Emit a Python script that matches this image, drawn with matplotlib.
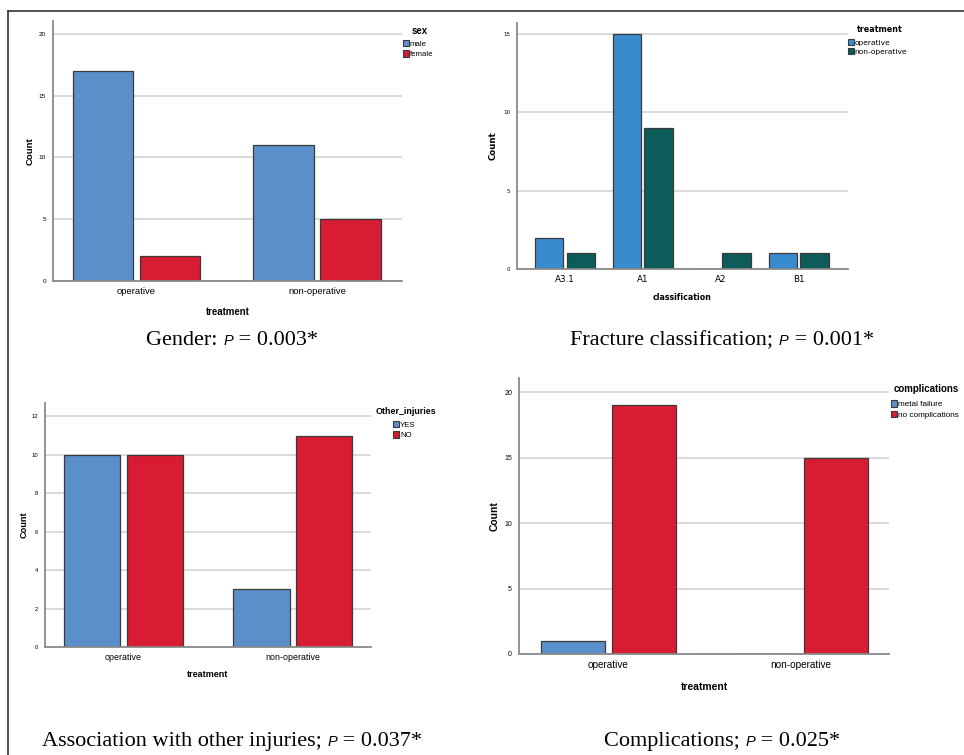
import matplotlib
matplotlib.use("Agg")
import matplotlib.pyplot as plt
import numpy as np
from matplotlib.lines import Line2D
from matplotlib.patches import Patch

plt.rcParams["font.family"] = ["Liberation Sans", "DejaVu Sans"]

# data
treatment = ["operative", "non-operative"]
sex_labels = ["male", "female"]
male = [17, 11]
female = [2, 5]

classification = ["A3.1", "A1", "A2", "B1"]
class_treat = ["operative", "non-operative"]
class_operative = [2, 15, 0, 1]
class_nonoperative = [1, 9, 1, 1]

injury_labels = ["YES", "NO"]
injury_yes = [10, 3]
injury_no = [10, 11]

compl_labels = ["metal failure", "no complications"]
compl_metal = [1, 0]
compl_none = [19, 15]

captions = [
    ("Gender: ", "0.003*"),
    ("Fracture classification; ", "0.001*"),
    ("Association with other injuries; ", "0.037*"),
    ("Complications; ", "0.025*"),
]

BLUE = "#5b8fc9"
RED = "#d71c33"
BLUE2 = "#398bd0"
TEAL = "#0d5c59"
EDGE = "#3a3a3a"
GRID = "#d4d4d4"
SPINE = "#8a8a8a"

W, H = 964, 755
fig = plt.figure(figsize=(W / 100, H / 100), dpi=100)


def px_axes(left, right, top, bottom):
    return fig.add_axes([left / W, 1 - bottom / H, (right - left) / W, (bottom - top) / H])


def fx(x):
    return x / W


def fy(y):
    return 1 - y / H


def style_axes(ax, ymax, yticks, ytick_fs, family):
    ax.set_ylim(0, ymax)
    ax.set_yticks(yticks)
    for s in ["top", "right"]:
        ax.spines[s].set_visible(False)
    for s in ["left", "bottom"]:
        ax.spines[s].set_color(SPINE)
        ax.spines[s].set_linewidth(1.3)
    ax.yaxis.grid(True, color=GRID, linewidth=1.2)
    ax.set_axisbelow(True)
    ax.tick_params(axis="y", length=0, labelsize=ytick_fs, pad=5)
    ax.tick_params(axis="x", length=0, pad=4)
    for lab in ax.get_yticklabels():
        lab.set_family(family)


def legend(ax, handles_labels, x, y, title, tx, ty, fs, tfs, family):
    handles = [Patch(facecolor=c, edgecolor=EDGE, linewidth=0.8) for c, _ in handles_labels]
    labels = [l for _, l in handles_labels]
    ax.legend(handles, labels, loc="upper left", bbox_to_anchor=(fx(x), fy(y)),
              bbox_transform=fig.transFigure, frameon=False, borderpad=0,
              handlelength=0.75, handleheight=0.9, handletextpad=0.15,
              labelspacing=0.3, borderaxespad=0,
              prop={"family": family, "size": fs})
    fig.text(fx(tx), fy(ty), title, fontsize=tfs, fontweight="bold",
             family=family, ha="left", va="center")


def caption(cx, baseline, head, value):
    # serif text, small italic sans P, serif value; centred as a whole
    parts = [
        fig.text(0, fy(baseline), head, fontsize=16, family="Liberation Serif", va="baseline"),
        fig.text(0, fy(baseline), "P", fontsize=10.5, family="Liberation Sans",
                 style="italic", va="baseline"),
        fig.text(0, fy(baseline), " = " + value, fontsize=16, family="Liberation Serif",
                 va="baseline"),
    ]
    r = fig.canvas.get_renderer()
    widths = [t.get_window_extent(r).width for t in parts]
    x = cx - sum(widths) / 2
    for t, wd in zip(parts, widths):
        t.set_x(fx(x))
        x += wd


# panel 1: gender
ax1 = px_axes(53, 402, 21, 281)
x = np.arange(len(treatment))
off, w = 0.185, 0.333
ax1.bar(x - off, male, w, color=BLUE, edgecolor=EDGE, linewidth=0.9)
ax1.bar(x + off, female, w, color=RED, edgecolor=EDGE, linewidth=0.9)
ax1.set_xlim(-0.46, 1.47)
ax1.set_xticks(x)
ax1.set_xticklabels(treatment, fontsize=6.8)
style_axes(ax1, 21.05, [0, 5, 10, 15, 20], 4.6, "Liberation Sans")
ax1.set_ylabel("Count", fontsize=6.8, fontweight="bold", labelpad=3)
ax1.set_xlabel("treatment", fontsize=6.9, fontweight="bold", labelpad=8)
legend(ax1, [(BLUE, "male"), (RED, "female")], 403, 40, "sex", 412, 31, 5.6, 6.9,
       "Liberation Sans")

# panel 2: classification
ax2 = px_axes(517, 848, 23, 269)
x = np.arange(len(classification))
off, w = 0.2025, 0.365
ax2.bar(x - off, class_operative, w, color=BLUE2, edgecolor=EDGE, linewidth=0.9)
ax2.bar(x + off, class_nonoperative, w, color=TEAL, edgecolor=EDGE, linewidth=0.9)
ax2.set_xlim(-0.615, 3.63)
ax2.set_xticks(x)
ax2.set_xticklabels(classification, fontsize=6.3, family="DejaVu Sans")
style_axes(ax2, 15.7, [0, 5, 10, 15], 4.0, "DejaVu Sans")
ax2.set_ylabel("Count", fontsize=6.2, fontweight="bold", family="DejaVu Sans", labelpad=4)
ax2.set_xlabel("classification", fontsize=5.7, fontweight="bold", family="DejaVu Sans",
               labelpad=7)
legend(ax2, [(BLUE2, "operative"), (TEAL, "non-operative")], 848, 39, "treatment",
       857, 30, 5.4, 5.8, "DejaVu Sans")

# panel 3: other injuries
ax3 = px_axes(45, 371, 403, 647)
x = np.arange(len(treatment))
off, w = 0.185, 0.334
ax3.bar(x - off, injury_yes, w, color=BLUE, edgecolor=EDGE, linewidth=0.9)
ax3.bar(x + off, injury_no, w, color=RED, edgecolor=EDGE, linewidth=0.9)
ax3.set_xlim(-0.464, 1.464)
ax3.set_xticks(x)
ax3.set_xticklabels(treatment, fontsize=6.4)
style_axes(ax3, 12.7, [0, 2, 4, 6, 8, 10, 12], 4.2, "Liberation Sans")
ax3.set_ylabel("Count", fontsize=6.6, fontweight="bold", labelpad=2)
ax3.set_xlabel("treatment", fontsize=6.5, fontweight="bold", labelpad=6)
legend(ax3, [(BLUE, "YES"), (RED, "NO")], 393, 421, "Other_injuries", 376, 412, 5.6, 6.4,
       "Liberation Sans")

# panel 4: complications
ax4 = px_axes(519, 889, 378, 654)
x = np.arange(len(treatment))
off, w = 0.185, 0.333
ax4.bar(x - off, compl_metal, w, color=BLUE, edgecolor=EDGE, linewidth=0.9)
ax4.bar(x + off, compl_none, w, color=RED, edgecolor=EDGE, linewidth=0.9)
ax4.set_xlim(-0.466, 1.461)
ax4.set_xticks(x)
ax4.set_xticklabels(treatment, fontsize=7.2)
style_axes(ax4, 21.1, [0, 5, 10, 15, 20], 5.0, "Liberation Sans")
ax4.set_ylabel("Count", fontsize=7.4, fontweight="bold", labelpad=3)
ax4.set_xlabel("treatment", fontsize=7.4, fontweight="bold", labelpad=9)
legend(ax4, [(BLUE, "metal failure"), (RED, "no complications")], 891, 400,
       "complications", 894, 389, 5.9, 7.0, "Liberation Sans")

# captions
for (cx, base), (head, value) in zip([(232, 345), (722, 345), (232, 746), (722, 746)],
                                     captions):
    caption(cx, base, head, value)

# outer frame (top and left only)
fig.add_artist(Line2D([fx(8), 1], [fy(11), fy(11)], color="#333333", linewidth=1.2))
fig.add_artist(Line2D([fx(8), fx(8)], [fy(11), 0], color="#333333", linewidth=1.2))

fig.savefig("out.png", dpi=100)
